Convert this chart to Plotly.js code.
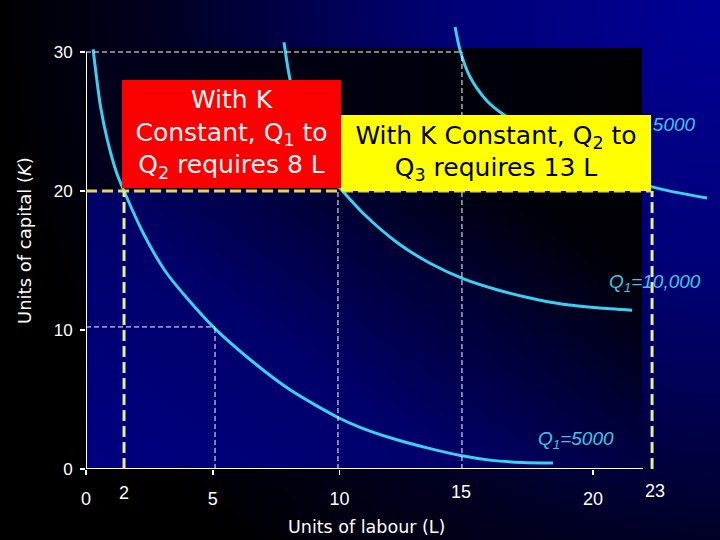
<!DOCTYPE html>
<html><head><meta charset="utf-8">
<script src="https://cdn.plot.ly/plotly-3.0.1.min.js"></script>
<style>
html,body{margin:0;padding:0;width:720px;height:540px;overflow:hidden;
background: radial-gradient(900px circle at 100% 0%, rgb(0,0,150) 0px, rgb(0,0,118) 270px, rgb(0,0,88) 380px, rgb(0,0,32) 560px, rgb(0,0,0) 730px);}
#chart{width:720px;height:540px;}
</style></head><body><div id="chart"></div>
<script>
// ---- data (axis units: L = labour, K = capital) ----
const q5000L  = [0.28, 0.58, 0.84, 1.21, 1.50, 2.25, 3.10, 3.98, 5.09, 6.59, 8.05, 9.98, 10.81, 12.0, 13.5, 14.83, 16.0, 17.2, 18.42];
const q5000K  = [30.2, 26.0, 23.7, 21.3, 20.0, 17.0, 14.3, 12.3, 10.1, 7.7, 5.7, 3.67, 3.0, 2.25, 1.5, 0.95, 0.62, 0.47, 0.43];
const q10000L = [7.81, 8.05, 8.4, 9.0, 9.5, 10.02, 10.93, 12.27, 13.57, 14.87, 16.21, 17.51, 18.82, 20.16, 21.54];
const q10000K = [30.7, 28.0, 25.6, 22.8, 21.3, 20.2, 18.4, 16.3, 14.8, 13.7, 12.9, 12.3, 11.85, 11.6, 11.42];
const q15000L = [14.56, 14.76, 15.15, 15.81, 16.47, 18.0, 20.0, 22.33, 24.5];
const q15000K = [31.8, 30.1, 28.2, 26.5, 25.5, 23.8, 21.9, 20.3, 19.5];
const curveLabels = ['Q<sub>1</sub>=5000', 'Q<sub>1</sub>=10,000', 'Q<sub>1</sub>=15000'];
const xTickVals = [0, 5, 10, 20];
const yTickVals = [0, 10, 20, 30];
const extraXLabels = ['2', '15', '23'];
// guide lines (axis units)
const guideL = [1.5, 5.09, 9.94, 14.83, 22.33];
const guideK = [10.22, 20, 30];
const boxTexts = ['With K<br>Constant, Q<sub>1</sub> to<br>Q<sub>2</sub> requires 8 L',
                  'With K Constant, Q<sub>2</sub> to<br>Q<sub>3</sub> requires 13 L'];

// ---- layout helpers (pixel -> axis / paper units for placing layout items) ----
const ML = 86, MB = 71, MT = 20, MR = 8, W = 720, H = 540;
const PXX = 25.35, PXY = 13.9;
const X = px => (px - ML) / PXX;
const Y = py => (H - MB - py) / PXY;
const PX = px => (px - ML) / (W - ML - MR);
const PY = py => (H - MB - py) / (H - MB - MT);
const xMax = (W - ML - MR) / PXX;
const yMax = (H - MB - MT) / PXY;

const cyan = '#3cd0f0';
const labelCyan = '#3ec6e6';
const tickFont = {family: 'Liberation Sans, Arial, sans-serif', size: 18, color: '#ffffff'};
const yTickFont = {family: 'Liberation Sans, Arial, sans-serif', size: 17, color: '#ffffff'};

const traces = [[q5000L, q5000K], [q10000L, q10000K], [q15000L, q15000K]].map(([x, y]) => ({
  x, y, type: 'scatter', mode: 'lines', hoverinfo: 'skip', showlegend: false,
  line: {color: cyan, width: 3, shape: 'spline', smoothing: 0.8}
}));

const bgSvg = "<svg xmlns='http://www.w3.org/2000/svg' width='556' height='421' viewBox='0 0 556 421' preserveAspectRatio='none'>" +
  "<defs><linearGradient id='g' x1='0' y1='1' x2='1' y2='0.3'>" +
  "<stop offset='0' stop-color='#000082'/><stop offset='0.45' stop-color='#00006a'/><stop offset='0.72' stop-color='#00003a'/><stop offset='1' stop-color='#000006'/></linearGradient>" +
  "<linearGradient id='t' x1='0' y1='0' x2='1' y2='0'><stop offset='0' stop-color='#00001c'/><stop offset='1' stop-color='#000004'/></linearGradient></defs>" +
  "<rect x='0' y='0' width='556' height='142' fill='url(#t)'/>" +
  "<rect x='0' y='142' width='556' height='279' fill='url(#g)'/></svg>";

const white = {color: '#ffffff', width: 1, dash: '5px,3px'};
const yel = {color: '#e6d650', width: 3, dash: '11px,5px'};
const yelPale = {color: '#e8e8a2', width: 3, dash: '11px,5px'};
const shapes = [
  // white guides
  {type: 'line', x0: 0, x1: guideL[3], y0: guideK[2], y1: guideK[2], line: white},
  {type: 'line', x0: guideL[3], x1: guideL[3], y0: 0, y1: guideK[2], line: white},
  {type: 'line', x0: guideL[2], x1: guideL[2], y0: 0, y1: guideK[1], line: white},
  {type: 'line', x0: 0, x1: guideL[1], y0: guideK[0], y1: guideK[0], line: white},
  {type: 'line', x0: guideL[1], x1: guideL[1], y0: 0, y1: guideK[0], line: white},
  // axis lines
  {type: 'line', x0: 0, x1: 0, y0: 0, y1: 30, line: {color: '#ffffff', width: 2}},
  {type: 'line', x0: 0, x1: X(643), y0: 0, y1: 0, line: {color: '#ffffff', width: 2}},
  // yellow guides
  {type: 'line', x0: 0, x1: X(651), y0: guideK[1], y1: guideK[1], line: yel},
  {type: 'line', x0: guideL[0], x1: guideL[0], y0: 0, y1: guideK[1], line: yelPale},
  {type: 'line', x0: guideL[4], x1: guideL[4], y0: 0, y1: guideK[1], line: yelPale}
].map(s => Object.assign({layer: 'above', xref: 'x', yref: 'y'}, s));

const labelFont = {family: 'Liberation Sans, Arial, sans-serif', size: 19, color: labelCyan};
const boxFont = {family: 'DejaVu Sans, sans-serif', size: 25};
const paperNote = (text, px, py, font, extra) => Object.assign({text, xref: 'paper', yref: 'paper', x: PX(px), y: PY(py),
  xanchor: 'center', yanchor: 'middle', showarrow: false, font}, extra || {});
const annotations = [
  paperNote('<i>' + curveLabels[0] + '</i>', 536, 440, labelFont, {xanchor: 'left'}),
  paperNote('<i>' + curveLabels[1] + '</i>', 607, 283, labelFont, {xanchor: 'left'}),
  paperNote('<i>' + curveLabels[2] + '</i>', 698, 126, labelFont, {xanchor: 'right'}),
  paperNote(boxTexts[0], 231.5, 134, Object.assign({color: '#f8f4f4'}, boxFont),
    {width: 219, height: 108, bgcolor: '#fa0000', borderpad: 0, borderwidth: 0, align: 'center', valign: 'middle'}),
  paperNote(boxTexts[1], 496, 153, Object.assign({color: '#000000'}, boxFont),
    {width: 310, height: 76, bgcolor: '#ffff00', borderpad: 0, borderwidth: 0, align: 'center', valign: 'middle'}),
  paperNote(extraXLabels[0], 124, 493, tickFont),
  paperNote(extraXLabels[1], 461, 492, tickFont),
  paperNote(extraXLabels[2], 655, 491, tickFont),
  paperNote('Units of labour (L)', 366, 527, {family: 'DejaVu Sans, sans-serif', size: 17.5, color: '#ffffff'}),
  paperNote('Units of capital (<i>K</i>)', 24, 241, {family: 'DejaVu Sans, sans-serif', size: 18, color: '#ffffff'}, {textangle: -90})
];

const layout = {
  width: W, height: H,
  margin: {l: ML, r: MR, t: MT, b: MB, pad: 0},
  paper_bgcolor: 'rgba(0,0,0,0)', plot_bgcolor: 'rgba(0,0,0,0)',
  showlegend: false,
  xaxis: {range: [0, xMax], showgrid: false, zeroline: false, showline: false,
          tickvals: xTickVals, ticks: 'outside', ticklen: 5, tickwidth: 1.5, tickcolor: '#ffffff',
          ticklabelstandoff: 8, tickfont: tickFont, fixedrange: true},
  yaxis: {range: [0, yMax], showgrid: false, zeroline: false, showline: false,
          tickvals: yTickVals, ticks: 'outside', ticklen: 5, tickwidth: 1.5, tickcolor: '#ffffff',
          ticklabelstandoff: 4, tickfont: yTickFont, fixedrange: true},
  images: [{source: 'data:image/svg+xml;charset=utf-8,' + encodeURIComponent(bgSvg),
            xref: 'x', yref: 'y', x: 0, y: Y(48), sizex: X(642), sizey: Y(48),
            xanchor: 'left', yanchor: 'top', sizing: 'stretch', layer: 'below'}],
  shapes, annotations
};

Plotly.newPlot('chart', traces, layout, {displayModeBar: false, staticPlot: true});
</script></body></html>
